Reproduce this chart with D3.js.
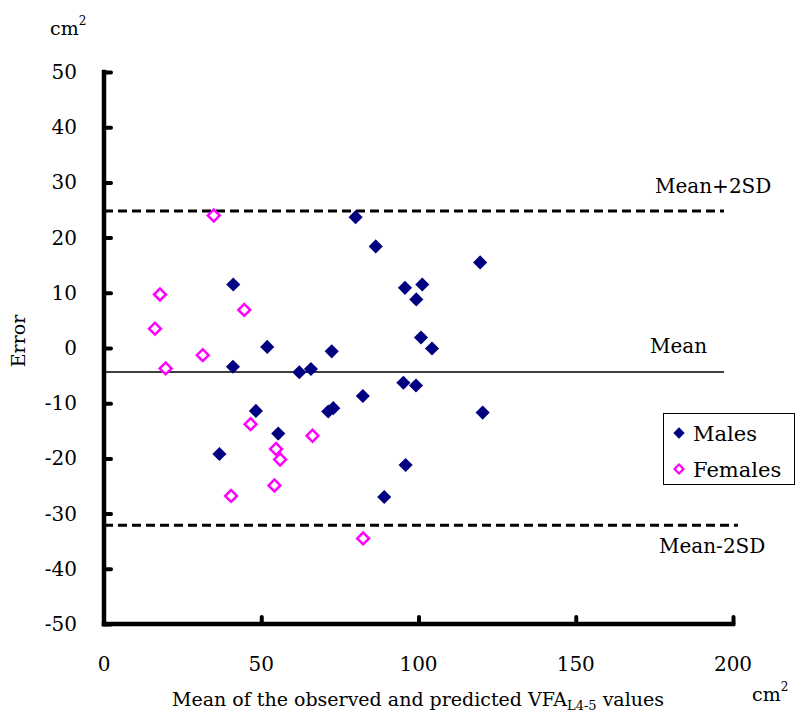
<!DOCTYPE html>
<html>
<head>
<meta charset="utf-8">
<script src="https://cdn.jsdelivr.net/npm/d3@7"></script>
<style>
  body { margin: 0; background: #fff; }
  text { font-family: "DejaVu Serif", "Liberation Serif", serif; fill: #000; }
</style>
</head>
<body>
<svg id="chart" width="796" height="716"></svg>
<script>
// Bland-Altman data
var maleX = [41.1, 41.0, 36.7, 48.3, 51.9, 55.4, 62.1, 65.8, 72.4, 71.3, 72.9, 80.0, 86.4,
             82.3, 89.1, 95.7, 99.3, 101.2, 100.8, 104.3, 95.2, 99.2, 95.9, 119.6, 120.4];
var maleY = [11.5, -3.4, -19.2, -11.4, 0.2, -15.5, -4.4, -3.8, -0.6, -11.5, -10.9, 23.7, 18.4,
             -8.7, -27.0, 10.9, 8.8, 11.5, 1.9, -0.1, -6.3, -6.8, -21.2, 15.5, -11.7];
var femaleX = [34.9, 17.8, 16.2, 19.6, 31.4, 44.6, 46.6, 40.4, 54.7, 56.0, 54.2, 66.3, 82.4];
var femaleY = [24.0, 9.7, 3.5, -3.7, -1.3, 6.9, -13.8, -26.8, -18.3, -20.2, -24.9, -15.9, -34.5];

var refNames = ['Mean+2SD', 'Mean', 'Mean-2SD'];
var refValues = [24.8, -4.35, -32.1];

var xTicks = [0, 50, 100, 150, 200];
var yTicks = [-50, -40, -30, -20, -10, 0, 10, 20, 30, 40, 50];

var MALE_COLOR = '#000080';
var FEMALE_COLOR = '#FF00FF';

var svg = d3.select('#chart');

var x = d3.scaleLinear().domain([0, 200]).range([104, 733]);
var y = d3.scaleLinear().domain([-50, 50]).range([624, 72]);

// reference lines
var refEnd = [724, 724, 738];
refValues.forEach(function (v, i) {
  svg.append('line')
    .attr('x1', x(0)).attr('x2', refEnd[i])
    .attr('y1', y(v)).attr('y2', y(v))
    .attr('stroke', '#000')
    .attr('stroke-width', i === 1 ? 1.5 : 3)
    .attr('stroke-dasharray', i === 1 ? null : '9,5');
});

var refLabelPos = [[655, 193], [650, 353], [659, 553]];
refNames.forEach(function (n, i) {
  svg.append('text')
    .attr('x', refLabelPos[i][0]).attr('y', refLabelPos[i][1])
    .style('font-size', '20px')
    .text(n);
});

// axes
var yAxis = svg.append('g').attr('transform', 'translate(' + x(0) + ',0)')
  .call(d3.axisRight(y).tickValues(yTicks).tickSize(7).tickFormat(''));
var xAxis = svg.append('g').attr('transform', 'translate(0,' + y(-50) + ')')
  .call(d3.axisTop(x).tickValues(xTicks.slice(1)).tickSize(7).tickFormat(''));
[xAxis, yAxis].forEach(function (a) {
  a.select('.domain').attr('stroke', '#000').attr('stroke-width', 4.5).attr('stroke-linecap', 'square');
  a.selectAll('.tick line').attr('stroke', '#000').attr('stroke-width', 4).attr('stroke-linecap', 'round');
});
yAxis.select('.domain').attr('d', 'M0,' + y(50) + 'V' + y(-50));
xAxis.select('.domain').attr('d', 'M' + x(0) + ',0H' + x(200));

// tick labels
svg.selectAll('.ylab').data(yTicks).enter().append('text')
  .attr('x', 77).attr('y', function (d) { return y(d); })
  .attr('dy', '0.35em')
  .attr('text-anchor', 'end')
  .style('font-size', '20px')
  .text(function (d) { return d; });

svg.selectAll('.xlab').data(xTicks).enter().append('text')
  .attr('x', function (d) { return x(d); }).attr('y', 671)
  .attr('text-anchor', 'middle')
  .style('font-size', '20px')
  .text(function (d) { return d; });

// units
var cmTop = svg.append('text').attr('x', 50).attr('y', 35).style('font-size', '19px');
cmTop.append('tspan').text('cm');
cmTop.append('tspan').attr('dy', -10).style('font-size', '12px').text('2');
var cmBot = svg.append('text').attr('x', 752).attr('y', 701).style('font-size', '19px');
cmBot.append('tspan').text('cm');
cmBot.append('tspan').attr('dy', -10).style('font-size', '12px').text('2');

// axis titles
var xt = svg.append('text').attr('x', 418).attr('y', 706).attr('text-anchor', 'middle')
  .style('font-size', '19px');
xt.append('tspan').text('Mean of the observed and predicted VFA');
xt.append('tspan').attr('dy', 4).style('font-size', '13px').text('L4-5');
xt.append('tspan').attr('dy', -4).text(' values');

svg.append('text')
  .attr('transform', 'translate(25,341) rotate(-90)')
  .attr('text-anchor', 'middle')
  .style('font-size', '19px')
  .text('Error');

// points
var sq = d3.symbol().type(d3.symbolSquare);
svg.selectAll('.female').data(femaleX).enter().append('path')
  .attr('d', sq.size(70)())
  .attr('transform', function (d, i) { return 'translate(' + x(d) + ',' + y(femaleY[i]) + ') rotate(45)'; })
  .attr('fill', '#fff').attr('stroke', FEMALE_COLOR).attr('stroke-width', 2.5);

svg.selectAll('.male').data(maleX).enter().append('path')
  .attr('d', sq.size(100)())
  .attr('transform', function (d, i) { return 'translate(' + x(d) + ',' + y(maleY[i]) + ') rotate(45)'; })
  .attr('fill', MALE_COLOR);

// legend
var lg = svg.append('g');
lg.append('rect').attr('x', 663.5).attr('y', 413.5).attr('width', 131).attr('height', 71)
  .attr('fill', '#fff').attr('stroke', '#000').attr('stroke-width', 1);
lg.append('path').attr('d', sq.size(64)())
  .attr('transform', 'translate(679,433) rotate(45)').attr('fill', MALE_COLOR);
lg.append('path').attr('d', sq.size(40)())
  .attr('transform', 'translate(679,469) rotate(45)')
  .attr('fill', '#fff').attr('stroke', FEMALE_COLOR).attr('stroke-width', 2.2);
lg.append('text').attr('x', 693).attr('y', 441).style('font-size', '21px').text('Males');
lg.append('text').attr('x', 693).attr('y', 477).style('font-size', '21px').text('Females');
</script>
</body>
</html>
